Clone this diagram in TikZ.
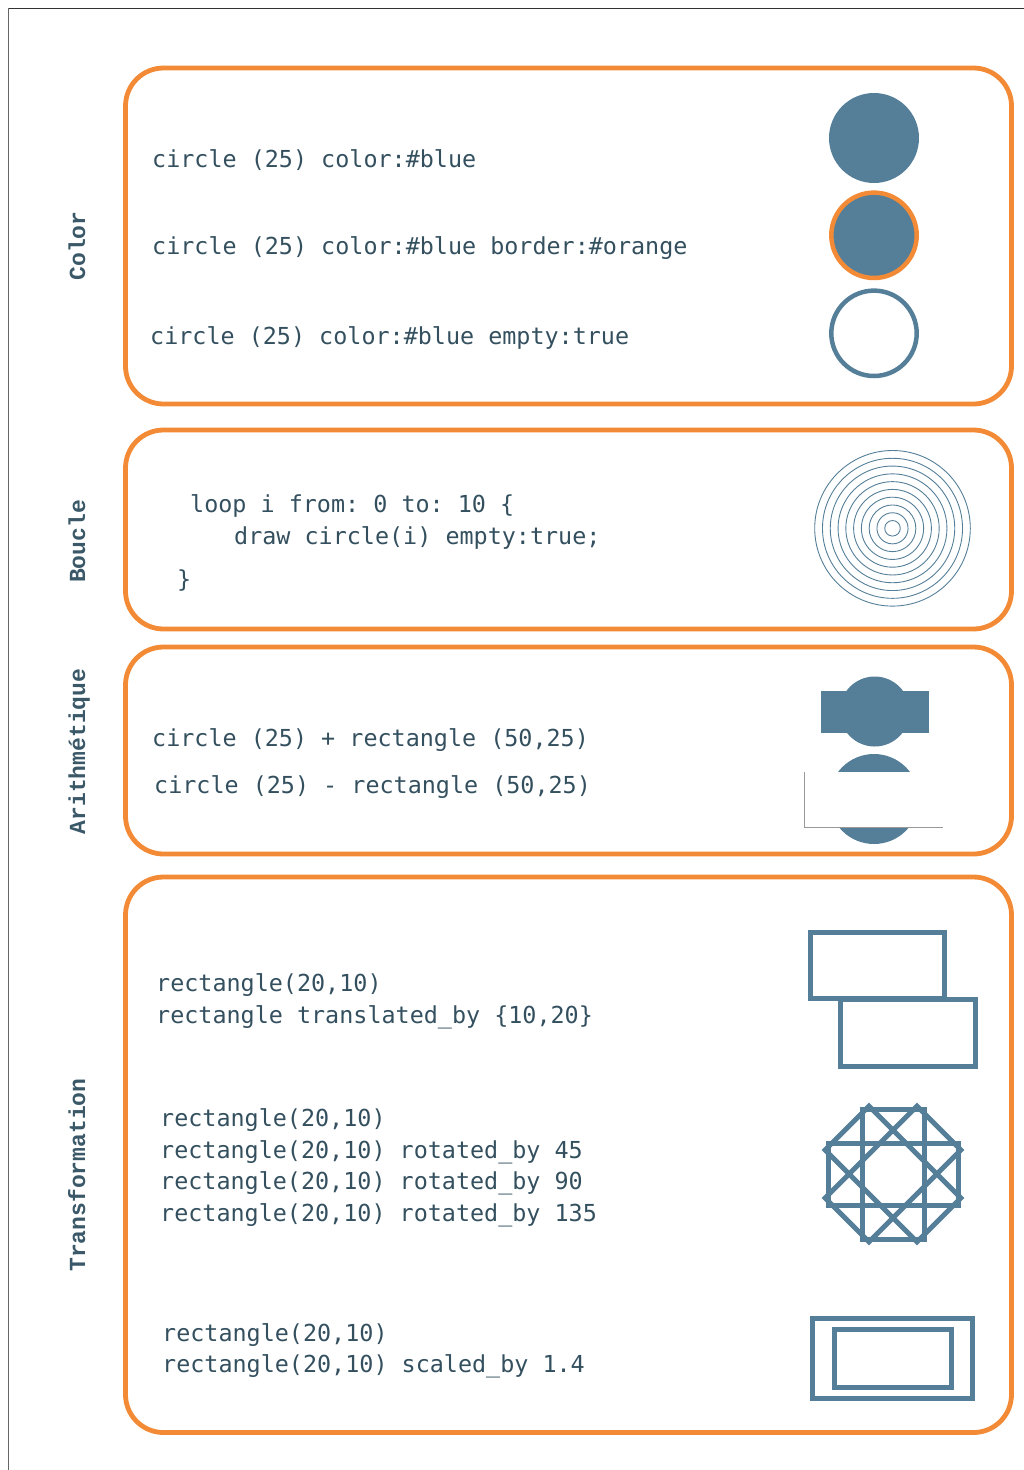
\documentclass[tikz,border=0pt]{standalone}
\usepackage{fontspec}
\setmonofont{DejaVu Sans Mono}
\newfontfamily\lblfont{Liberation Mono}[BoldFont={Liberation Mono Bold}]
\definecolor{shapeblue}{HTML}{557F99}
\definecolor{frameorange}{HTML}{F28A36}
\definecolor{codetext}{HTML}{34505F}
\definecolor{lbltext}{HTML}{3A5868}
\tikzset{
  panel/.style={draw=frameorange, line width=4.8pt, rounded corners=38pt},
  code/.style={font=\ttfamily\fontsize{23.4}{28}\selectfont, text=codetext, inner sep=0pt, anchor=base west},
  sidelabel/.style={font=\lblfont\bfseries\fontsize{23}{28}\selectfont, text=lbltext, inner sep=0pt, anchor=base, rotate=90},
  outline/.style={draw=shapeblue, line width=5pt},
}
\begin{document}
\begin{tikzpicture}[x=1pt,y=-1pt]
\useasboundingbox (0,0) rectangle (1024,1470);
% page frame
\draw[line width=1pt, draw=black!80] (8,8) -- (1024,8);
\draw[line width=1pt, draw=black!60] (8,8) -- (8,1470);

% panels
\draw[panel] (125.5,68) rectangle (1011.5,404);
\draw[panel] (125.5,430) rectangle (1011.5,629);
\draw[panel] (125.5,647) rectangle (1011.5,854);
\draw[panel] (125.5,877) rectangle (1011.5,1432.5);

% side labels
\node[sidelabel] (lColor) at (85,246) {Color};
\node[sidelabel] (lBoucle) at (85,541.5) {Boucle};
\node[sidelabel] (lArith) at (85,751.5) {Arithmétique};
\node[sidelabel] (lTrans) at (85,1175) {Transformation};

% --- Color ---
\node[code] (c1) at (152,167) {circle (25) color:\#blue};
\node[code] (c2) at (152,254) {circle (25) color:\#blue border:\#orange};
\node[code] (c3) at (150,344) {circle (25) color:\#blue empty:true};
\fill[shapeblue] (874,138) circle[radius=45];
\draw[fill=shapeblue, draw=frameorange, line width=4.5pt] (874,235.3) circle[radius=42.7];
\draw[fill=white, draw=shapeblue, line width=4.5pt] (874,333.3) circle[radius=42.7];

% --- Boucle ---
\node[code] (b1) at (190,512) {loop i from: 0 to: 10 \{};
\node[code] (b2) at (234,544) {draw circle(i) empty:true;};
\node[code] (b3) at (177,587) {\}};
\foreach \k in {1,...,10}
  \draw[shapeblue, line width=0.9pt] (892.5,528.3) circle[radius=7.78*\k];

% --- Arithmetique ---
\node[code] (a1) at (152,746) {circle (25) + rectangle (50,25)};
\node[code] (a2) at (154,793) {circle (25) - rectangle (50,25)};
\fill[shapeblue] (874.7,711.5) circle[radius=35];
\fill[shapeblue] (820.7,691) rectangle (928.7,733.3);
\fill[shapeblue] (874,799) circle[radius=45];
\fill[white] (804.3,772.3) rectangle (943.3,827.3);
\draw[black!40, line width=1pt] (804.3,772.3) -- (804.3,827.3) -- (943.3,827.3);

% --- Transformation ---
\node[code] (t1) at (156,991) {rectangle(20,10)};
\node[code] (t2) at (156,1023) {rectangle translated\_by \{10,20\}};
\draw[outline] (810.5,932.5) rectangle (944.5,998.5);
\draw[outline] (840.5,999.5) rectangle (975,1066);

\node[code] (t3) at (160,1126) {rectangle(20,10)};
\node[code] (t4) at (160,1158) {rectangle(20,10) rotated\_by 45};
\node[code] (t5) at (160,1189) {rectangle(20,10) rotated\_by 90};
\node[code] (t6) at (160,1221) {rectangle(20,10) rotated\_by 135};
\coordinate (rc) at (893,1174);
\foreach \a in {0,45,90,135}
  \draw[outline, rotate around={\a:(rc)}] ([shift={(-65,-31)}]rc) rectangle ([shift={(65,31)}]rc);

\node[code] (t7) at (162,1341) {rectangle(20,10)};
\node[code] (t8) at (162,1372) {rectangle(20,10) scaled\_by 1.4};
\draw[outline] (812.5,1318.5) rectangle (972.5,1398.5);
\draw[outline] (834,1329.5) rectangle (951,1387.5);
\end{tikzpicture}
\end{document}
